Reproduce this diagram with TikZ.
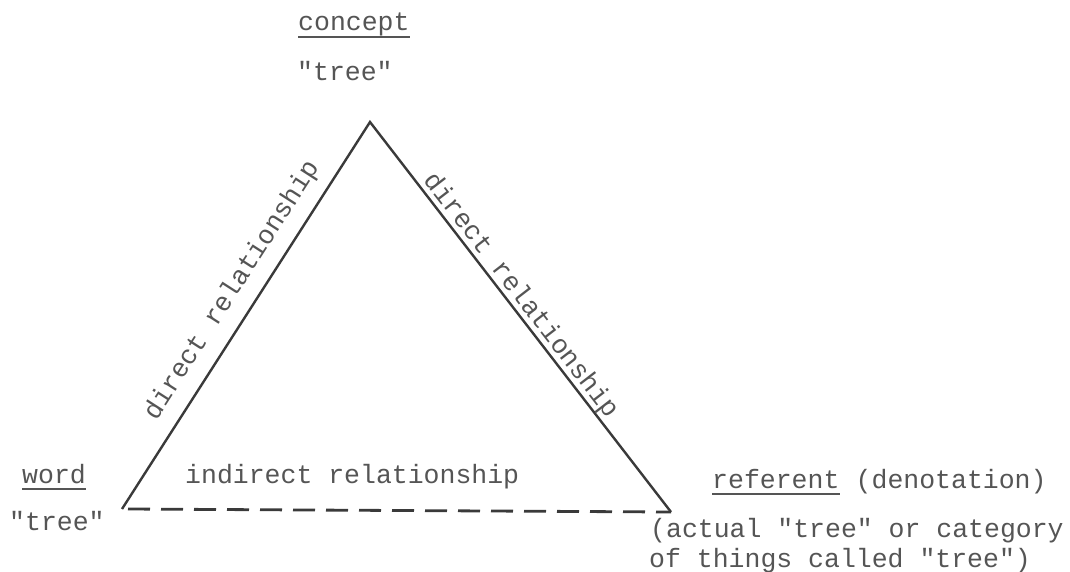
\documentclass[tikz,border=0pt]{standalone}
\usepackage{fontspec}
\newfontfamily\typewriter{Liberation Mono}
\definecolor{ink}{HTML}{3A3A3A}
\definecolor{typeink}{HTML}{555555}
\tikzset{
  lbl/.style={inner sep=0pt, anchor=base west, text=typeink,
              font=\typewriter\fontsize{26.5}{30}\selectfont},
  edge/.style={draw=ink, line width=2.4pt, line join=miter},
  indirect/.style={draw=ink, line width=2.8pt, dash pattern=on 22pt off 11pt},
  ul/.style={draw=typeink, line width=1.6pt}
}
\begin{document}
\begin{tikzpicture}[x=1pt, y=-1pt]
  \useasboundingbox (0,0) rectangle (1070,571);

  % triangle corners
  \coordinate (C) at (370,122);
  \coordinate (W) at (122,509);
  \coordinate (R) at (671,512);
  \coordinate (Wd) at (128,509);

  % sides of the triangle
  \draw[edge] (W) -- (C) -- (R);
  \draw[indirect] (Wd) -- (R);

  % concept
  \node[lbl] (concept) at (298,30) {concept};
  \node[lbl] (ctree) at (297,80) {"tree"};
  \draw[ul] ([yshift=-7pt]concept.base west) -- ([yshift=-7pt]concept.base east);

  % word
  \node[lbl] (word) at (22,483) {word};
  \node[lbl] (wtree) at (9,530) {"tree"};
  \draw[ul] ([yshift=-6pt]word.base west) -- ([yshift=-6pt]word.base east);

  % referent
  \node[lbl] (referent) at (712,488) {referent};
  \node[lbl, anchor=base west] (denot) at (referent.base east) {\ (denotation)};
  \draw[ul] ([yshift=-6pt]referent.base west) -- ([yshift=-6pt]referent.base east);
  \node[lbl] (ref1) at (650,537) {(actual "tree" or category};
  \node[lbl] (ref2) at (649,567) {of things called "tree")};

  % relationship labels
  \node[lbl] (indir) at (185,483) {indirect relationship};
  \node[lbl, anchor=base, rotate=57.3] (dleft) at (238,294) {direct relationship};
  \node[lbl, anchor=base, rotate=-52.3] (dright) at (515,300) {direct relationship};
\end{tikzpicture}
\end{document}
